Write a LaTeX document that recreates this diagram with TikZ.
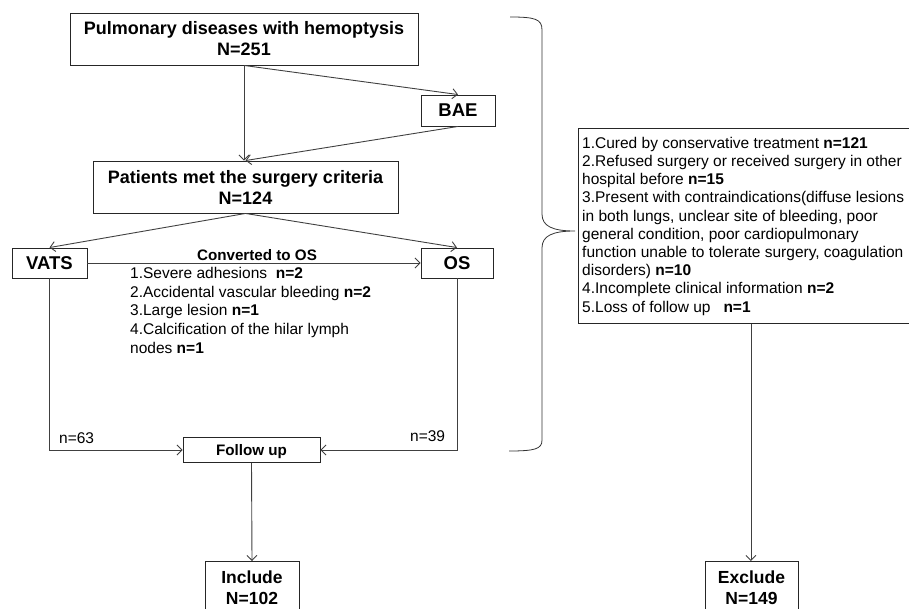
\documentclass[tikz,border=0pt]{standalone}
\usepackage{fontspec}
\setmainfont{Liberation Sans}
\usetikzlibrary{arrows.meta}
\begin{document}
\begin{tikzpicture}[x=1pt,y=-1pt,
  box/.style={draw=black!85, line width=0.9pt, inner sep=0pt, align=center},
  big/.style={font=\fontsize{18}{21}\selectfont\bfseries},
  mid/.style={font=\fontsize{15.2}{18}\selectfont\bfseries},
  conn/.style={draw=black!75, line width=0.9pt, -{Straight Barb[length=5pt,width=10pt]}},
  txt/.style={anchor=base west, inner sep=0pt, font=\fontsize{15.5}{18}\selectfont},
  brace/.style={draw=black!80, line width=0.8pt}]
\useasboundingbox (0,0) rectangle (909,609);
\clip (0,0) rectangle (909,609);

% boxes
\node[box, big, minimum width=348, minimum height=52] (top) at (244,39) {Pulmonary diseases with hemoptysis\\N=251};
\node[box, big, font=\fontsize{18.5}{21}\selectfont\bfseries, minimum width=74, minimum height=31] (bae) at (458,110.5) {BAE};
\node[box, big, minimum width=305, minimum height=52] (pat) at (245.5,187) {Patients met the surgery criteria\\N=124};
\node[box, big, font=\fontsize{18.5}{21}\selectfont\bfseries, minimum width=75, minimum height=30] (vats) at (49.5,263) {VATS};
\node[box, big, font=\fontsize{18.5}{21}\selectfont\bfseries, minimum width=72, minimum height=30] (os) at (457,263) {OS};
\node[box, mid, minimum width=137, minimum height=25, text height=11pt, text depth=0pt] (fu) at (251.5,450) {Follow up};
\node[box, big, font=\fontsize{17.5}{21}\selectfont\bfseries, minimum width=94, minimum height=52, anchor=north] (inc) at (252,561) {Include\\N=102};
\node[box, big, font=\fontsize{17.5}{21}\selectfont\bfseries, minimum width=93, minimum height=52, anchor=north] (exc) at (751.5,561) {Exclude\\N=149};
\node[box, minimum width=345, minimum height=195, anchor=north west] (lst) at (578,128) {};

% conversion text
\node[mid, anchor=base, inner sep=0pt] (conv) at (257,260.4) {Converted to OS};
\node[txt] (c1) at (130,278.4) {1.Severe adhesions\ \ \textbf{n=2}};
\node[txt] (c2) at (130,297.2) {2.Accidental vascular bleeding \textbf{n=2}};
\node[txt] (c3) at (130,316.0) {3.Large lesion \textbf{n=1}};
\node[txt] (c4) at (130,334.8) {4.Calcification of the hilar lymph};
\node[txt] (c5) at (130,353.6) {nodes \textbf{n=1}};

\node[txt] (n63) at (59,443.4) {n=63};
\node[txt] (n39) at (410,441.4) {n=39};

% exclusion list
\node[txt] (e1) at (582,148.4) {1.Cured by conservative treatment \textbf{n=121}};
\node[txt] (e2) at (582,166.6) {2.Refused surgery or received surgery in other};
\node[txt] (e3) at (582,184.8) {hospital before \textbf{n=15}};
\node[txt] (e4) at (582,203.0) {3.Present with contraindications(diffuse lesions};
\node[txt] (e5) at (582,221.2) {in both lungs, unclear site of bleeding, poor};
\node[txt] (e6) at (582,239.4) {general condition, poor cardiopulmonary};
\node[txt] (e7) at (582,257.6) {function unable to tolerate surgery, coagulation};
\node[txt] (e8) at (582,275.8) {disorders) \textbf{n=10}};
\node[txt] (e9) at (582,294.0) {4.Incomplete clinical information \textbf{n=2}};
\node[txt] (e10) at (582,312.2) {5.Loss of follow up\ \ \ \textbf{n=1}};

% connectors
\draw[conn] (top.south) -- (top.south |- pat.north);
\draw[conn] (top.south) -- (bae.north);
\draw[conn] (bae.south) -- (pat.north);
\draw[conn] (pat.south) -- (vats.north);
\draw[conn] (pat.south) -- (os.north);
\draw[conn] (vats.east) -- (os.west);
\draw[conn] (vats.south) |- (fu.west);
\draw[conn] (os.south) |- (fu.east);
\draw[conn] (fu.south) -- (inc.north);
\draw[conn] (lst.south) -- (lst.south |- exc.north);

% brace
\draw[brace] (510,17) .. controls (535,17) and (542,19) .. (542,30) -- (542,214)
  .. controls (542,226) and (552,231) .. (575,231)
  .. controls (552,231) and (542,236) .. (542,248) -- (542,440)
  .. controls (542,449) and (535,451) .. (509,451);
\end{tikzpicture}
\end{document}
